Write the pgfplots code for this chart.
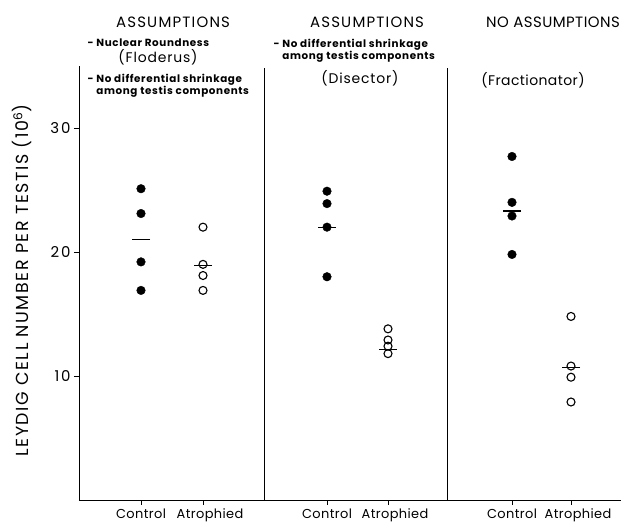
\documentclass[border=0pt]{standalone}
\usepackage{fontspec}
\setmainfont{Poppins}
\usepackage{pgfplots}
\pgfplotsset{compat=1.18}

\newcommand{\headfont}{\fontsize{15}{17}\selectfont\addfontfeatures{LetterSpace=8}}
\newcommand{\methfont}{\fontsize{14}{16}\selectfont\addfontfeatures{LetterSpace=6}}
\newcommand{\notefont}{\bfseries\fontsize{10.4}{12.4}\selectfont\addfontfeatures{LetterSpace=6}}
\newcommand{\ctl}{Control\hspace{10bp}}
\newcommand{\atr}{\hspace{14bp}Atrophied}

\begin{document}
\begin{tikzpicture}[font=\fontsize{13}{15}\selectfont]
\begin{axis}[
  scale only axis, width=542bp, height=434bp,
  xmin=79, xmax=621, ymin=0, ymax=35,
  axis x line=bottom, axis y line=left,
  axis line style={-, line width=0.9bp},
  xtick={141,203,327,388,512,571},
  xticklabels={\ctl,\atr,\ctl,\atr,\ctl,\atr},
  ytick={10,20,30},
  tick align=outside,
  major tick length=5bp,
  tick style={line width=0.9bp, black},
  /pgf/number format/assume math mode=true,
  xticklabel style={font=\fontsize{13}{15}\selectfont\addfontfeatures{LetterSpace=3}},
  yticklabel style={font=\fontsize{15}{17}\selectfont\addfontfeatures{LetterSpace=12}},
  clip=false,
  ylabel={LEYDIG CELL NUMBER PER TESTIS (10\textsuperscript{6})},
  ylabel style={at={(axis cs:22,17.7)}, anchor=center,
    font=\fontsize{17.5}{19}\selectfont\addfontfeatures{LetterSpace=9}},
]
% control groups (filled)
\addplot[only marks, mark=*, mark size=4.3bp, black] coordinates {
  (141,25.1) (141,23.1) (141,19.2) (141,16.9)
  (327,24.9) (327,23.9) (327,22.0) (327,18.0)
  (512,27.7) (512,24.0) (512,22.9) (512,19.8)};
% atrophied groups (open)
\addplot[only marks, mark=o, mark size=4bp, line width=1.1bp, black, mark options={fill=white}] coordinates {
  (203,22.0) (203,19.0) (203,18.1) (203,16.9)
  (388,13.8) (388,12.9) (388,12.4) (388,11.8)
  (571,14.8) (571,10.8) (571,9.9) (571,7.9)};
% means
\addplot[only marks, mark=-, mark size=9bp, line width=1.1bp, black] coordinates {
  (141,21.0) (203,18.9) (327,22.0) (388,12.1) (512,23.3) (571,10.7)};

\draw[line width=0.9bp] (axis cs:264,0) -- (axis cs:264,34.8);
\draw[line width=0.9bp] (axis cs:447,0) -- (axis cs:447,34.8);

\node[font=\headfont] at (axis cs:173,38.55) {ASSUMPTIONS};
\node[font=\headfont] at (axis cs:367,38.55) {ASSUMPTIONS};
\node[font=\fontsize{15}{17}\selectfont\addfontfeatures{LetterSpace=3}, anchor=east, inner xsep=1bp]
  at (axis cs:621,38.55) {NO ASSUMPTIONS};

\node[anchor=west, font=\notefont] at (axis cs:84,36.85) {- Nuclear Roundness};
\node[font=\methfont] at (axis cs:158,35.73) {(Floderus)};
\node[anchor=west, font=\notefont, align=left] at (axis cs:84,33.4)
  {- No differential shrinkage\\\hphantom{- }among testis components};

\node[anchor=west, font=\notefont, align=left] at (axis cs:270,36.25)
  {- No differential shrinkage\\\hphantom{- }among testis components};
\node[font=\methfont] at (axis cs:360,34.03) {(Disector)};
\node[font=\fontsize{14}{16}\selectfont\addfontfeatures{LetterSpace=3}] at (axis cs:533,33.87) {(Fractionator)};

\coordinate (bl) at (axis cs:0,-2.34);
\coordinate (tr) at (axis cs:621,40.32);
\end{axis}
\pgfresetboundingbox
\useasboundingbox (bl) rectangle (tr);
\end{tikzpicture}
\end{document}
